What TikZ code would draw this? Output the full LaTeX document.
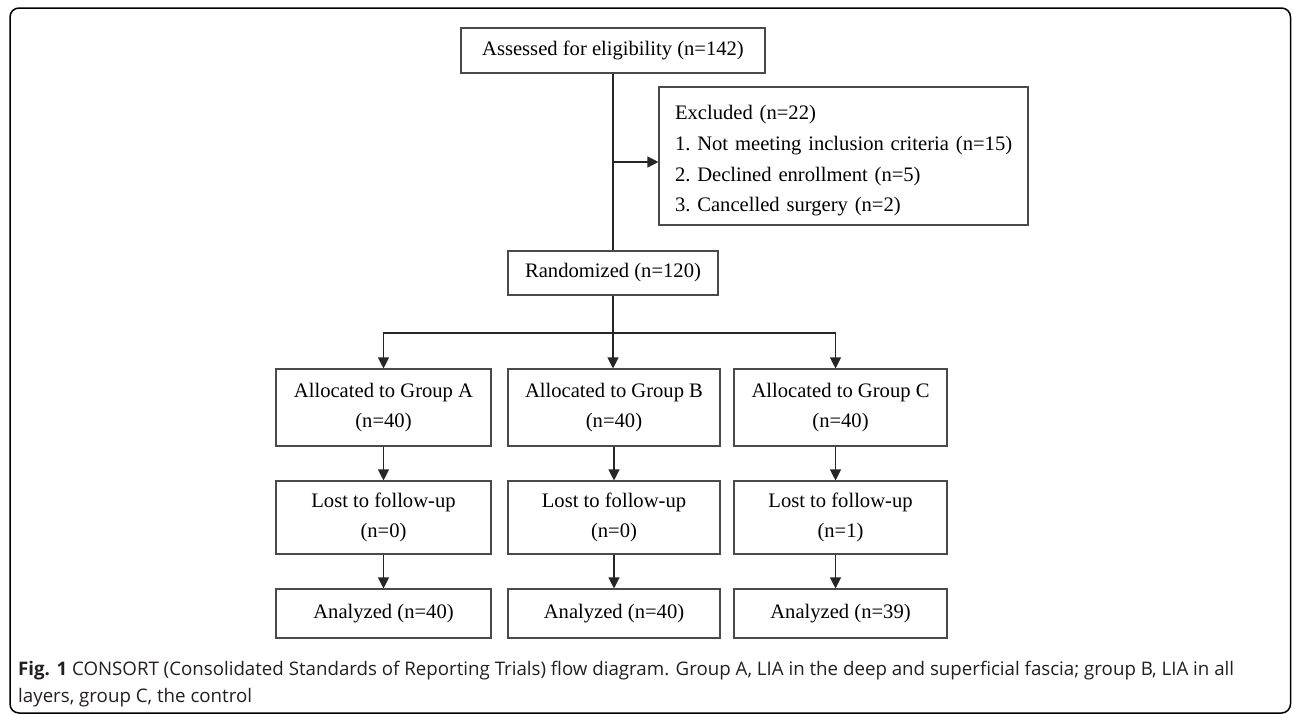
\documentclass[tikz,border=0pt]{standalone}
\usepackage{fontspec}
\setmainfont{Liberation Serif}
\newfontfamily\capsans{Open Sans}
\usetikzlibrary{arrows.meta}
\definecolor{linegray}{HTML}{4A4A4A}
\definecolor{captext}{HTML}{231F20}
\newcommand{\boxfont}{\fontsize{20.6}{30.6}\selectfont}
\newcommand{\capfont}{\capsans\fontsize{18.7}{27}\selectfont}
\newcommand{\ind}{\hspace*{8pt}}
\begin{document}
\begin{tikzpicture}[x=1pt,y=-1pt,
  box/.style={draw=linegray, line width=1.1pt, inner sep=0pt, align=center, font=\boxfont},
  conn/.style={draw=black!85, line width=1.1pt},
  arr/.style={conn, -{Triangle[length=11pt,width=11pt]}},
  captxt/.style={anchor=base west, inner sep=0pt, font=\capfont, text=captext}]
\useasboundingbox (0,0) rectangle (1292,715);
\draw[line width=1.5pt, rounded corners=9pt] (10,8) rectangle (1290.5,713);

\node[box, minimum width=304pt, minimum height=45pt] (assess) at (613,50.5) {Assessed for eligibility (n=142)};
\node[box, minimum width=369pt, minimum height=138pt, text width=353pt, align=left] (excl) at (843.5,156) {\ind\rule{0pt}{24pt}Excluded (n=22)\\\ind 1.\ Not meeting inclusion criteria (n=15)\\\ind 2.\ Declined enrollment (n=5)\\\ind 3.\ Cancelled surgery (n=2)};
\node[box, minimum width=210pt, minimum height=44pt] (rand) at (613,273) {Randomized (n=120)};

\node[box, minimum width=215pt, minimum height=77pt] (allocA) at (383.5,407.5) {Allocated to Group A\\(n=40)};
\node[box, minimum width=212pt, minimum height=77pt] (allocB) at (614,407.5) {Allocated to Group B\\(n=40)};
\node[box, minimum width=213pt, minimum height=77pt] (allocC) at (840.5,407.5) {Allocated to Group C\\(n=40)};

\node[box, minimum width=215pt, minimum height=73pt] (lostA) at (383.5,517.5) {Lost to follow-up\\(n=0)};
\node[box, minimum width=212pt, minimum height=73pt] (lostB) at (614,517.5) {Lost to follow-up\\(n=0)};
\node[box, minimum width=213pt, minimum height=73pt] (lostC) at (840.5,517.5) {Lost to follow-up\\(n=1)};

\node[box, minimum width=215pt, minimum height=49pt] (anaA) at (383.5,613.5) {Analyzed (n=40)};
\node[box, minimum width=212pt, minimum height=49pt] (anaB) at (614,613.5) {Analyzed (n=40)};
\node[box, minimum width=213pt, minimum height=49pt] (anaC) at (840.5,613.5) {Analyzed (n=39)};

\coordinate (ej) at (613,162);
\coordinate (br) at (613,333);

\draw[conn] (assess.south) -- (assess.south |- rand.north);
\draw[arr] (ej) -- (ej -| excl.west);
\draw[arr] (rand.south) -- (rand.south |- allocB.north);
\draw[arr] (br) -| (allocA.north);
\draw[arr] (br) -| ([xshift=-5pt]allocC.north);

\draw[arr] (allocA.south) -- (lostA.north);
\draw[arr] (allocB.south) -- (lostB.north);
\draw[arr] ([xshift=-5pt]allocC.south) -- ([xshift=-5pt]lostC.north);
\draw[arr] (lostA.south) -- (anaA.north);
\draw[arr] (lostB.south) -- (anaB.north);
\draw[arr] ([xshift=-5pt]lostC.south) -- ([xshift=-5pt]anaC.north);

\node[captxt] (cap1) at (18,675) {\textbf{Fig. 1} CONSORT (Consolidated Standards of Reporting Trials) flow diagram. Group A, LIA in the deep and superficial fascia; group B, LIA in all};
\node[captxt] (cap2) at (18,702) {layers, group C, the control};
\end{tikzpicture}
\end{document}
